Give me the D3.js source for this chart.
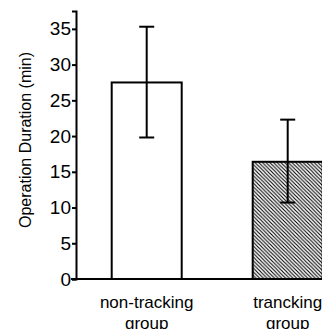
<!DOCTYPE html>
<html>
<head>
<meta charset="utf-8">
<script src="https://cdn.jsdelivr.net/npm/d3@7"></script>
<style>
  body { margin: 0; background: #fff; }
  text { font-family: "Liberation Sans", Arial, sans-serif; }
</style>
</head>
<body>
<div id="chart-area"></div>
<script>
// Data //
const groups = ["non-tracking group", "trancking group"];
const means = [27.5, 16.4];
const errLow = [19.8, 10.7];
const errHigh = [35.3, 22.3];
const yTicks = [0, 5, 10, 15, 20, 25, 30, 35];

const W = 322, H = 329;

var svg = d3.select("#chart-area")
  .append("svg")
  .attr("width", W)
  .attr("height", H);

// hatch pattern for second bar
var defs = svg.append("defs");
var pat = defs.append("pattern")
  .attr("id", "hatch")
  .attr("patternUnits", "userSpaceOnUse")
  .attr("width", 3.7)
  .attr("height", 3.7);
pat.append("rect").attr("width", 3.7).attr("height", 3.7).attr("fill", "#fff");
pat.append("path")
  .attr("d", "M-1,-1 L4.7,4.7 M-1,2.7 L1,4.7 M2.7,-1 L4.7,1")
  .attr("stroke", "#000")
  .attr("stroke-width", 1.1);

// Scales
var x = d3.scaleBand()
  .domain(groups)
  .range([111.7, 111.7 + 141 + 70])
  .paddingInner(71 / 141)
  .paddingOuter(0);

var y = d3.scaleLinear()
  .domain([0, 37.5])
  .range([279, 11]);

// Bars
svg.selectAll("rect.bar")
  .data(groups)
  .enter()
  .append("rect")
  .attr("class", "bar")
  .attr("x", d => x(d))
  .attr("y", (d, i) => y(means[i]))
  .attr("width", x.bandwidth())
  .attr("height", (d, i) => y(0) - y(means[i]))
  .attr("fill", (d, i) => i === 0 ? "#fff" : "url(#hatch)")
  .attr("stroke", "#000")
  .attr("stroke-width", 2);

// Error bars
var eb = svg.selectAll("g.err")
  .data(groups)
  .enter()
  .append("g")
  .attr("class", "err")
  .attr("stroke", "#000")
  .attr("stroke-width", 2);
eb.append("line")
  .attr("x1", d => x(d) + x.bandwidth() / 2)
  .attr("x2", d => x(d) + x.bandwidth() / 2)
  .attr("y1", (d, i) => y(errLow[i]))
  .attr("y2", (d, i) => y(errHigh[i]));
eb.append("line")
  .attr("x1", d => x(d) + x.bandwidth() / 2 - 7.5)
  .attr("x2", d => x(d) + x.bandwidth() / 2 + 7.5)
  .attr("y1", (d, i) => y(errHigh[i]))
  .attr("y2", (d, i) => y(errHigh[i]));
eb.append("line")
  .attr("x1", d => x(d) + x.bandwidth() / 2 - 7.5)
  .attr("x2", d => x(d) + x.bandwidth() / 2 + 7.5)
  .attr("y1", (d, i) => y(errLow[i]))
  .attr("y2", (d, i) => y(errLow[i]));

// Y axis
var yAxis = svg.append("g")
  .attr("transform", "translate(76,0)")
  .call(d3.axisLeft(y).tickValues(yTicks).tickSizeOuter(0).tickSize(4).tickPadding(1));
yAxis.select(".domain").attr("stroke-width", 2);
yAxis.selectAll(".tick line").attr("stroke-width", 2);
yAxis.selectAll(".tick text")
  .attr("font-size", "19px")
  .attr("fill", "#000")
  .attr("font-family", "Liberation Sans, Arial, sans-serif");

// X axis baseline
svg.append("line")
  .attr("x1", 71)
  .attr("x2", W)
  .attr("y1", y(0))
  .attr("y2", y(0))
  .attr("stroke", "#000")
  .attr("stroke-width", 2);

// X labels (two lines)
var xl = svg.selectAll("text.xlab")
  .data(groups)
  .enter()
  .append("text")
  .attr("class", "xlab")
  .attr("text-anchor", "middle")
  .attr("font-size", "17px")
  .attr("fill", "#000");
xl.append("tspan")
  .attr("x", d => x(d) + x.bandwidth() / 2)
  .attr("y", 308)
  .text(d => d.split(" ")[0]);
xl.append("tspan")
  .attr("x", d => x(d) + x.bandwidth() / 2)
  .attr("y", 329)
  .text(d => d.split(" ")[1]);

// Y label
svg.append("text")
  .attr("transform", "rotate(-90)")
  .attr("x", -140)
  .attr("y", 31)
  .attr("text-anchor", "middle")
  .attr("font-size", "16px")
  .attr("fill", "#000")
  .text("Operation Duration (min)");
</script>
</body>
</html>
